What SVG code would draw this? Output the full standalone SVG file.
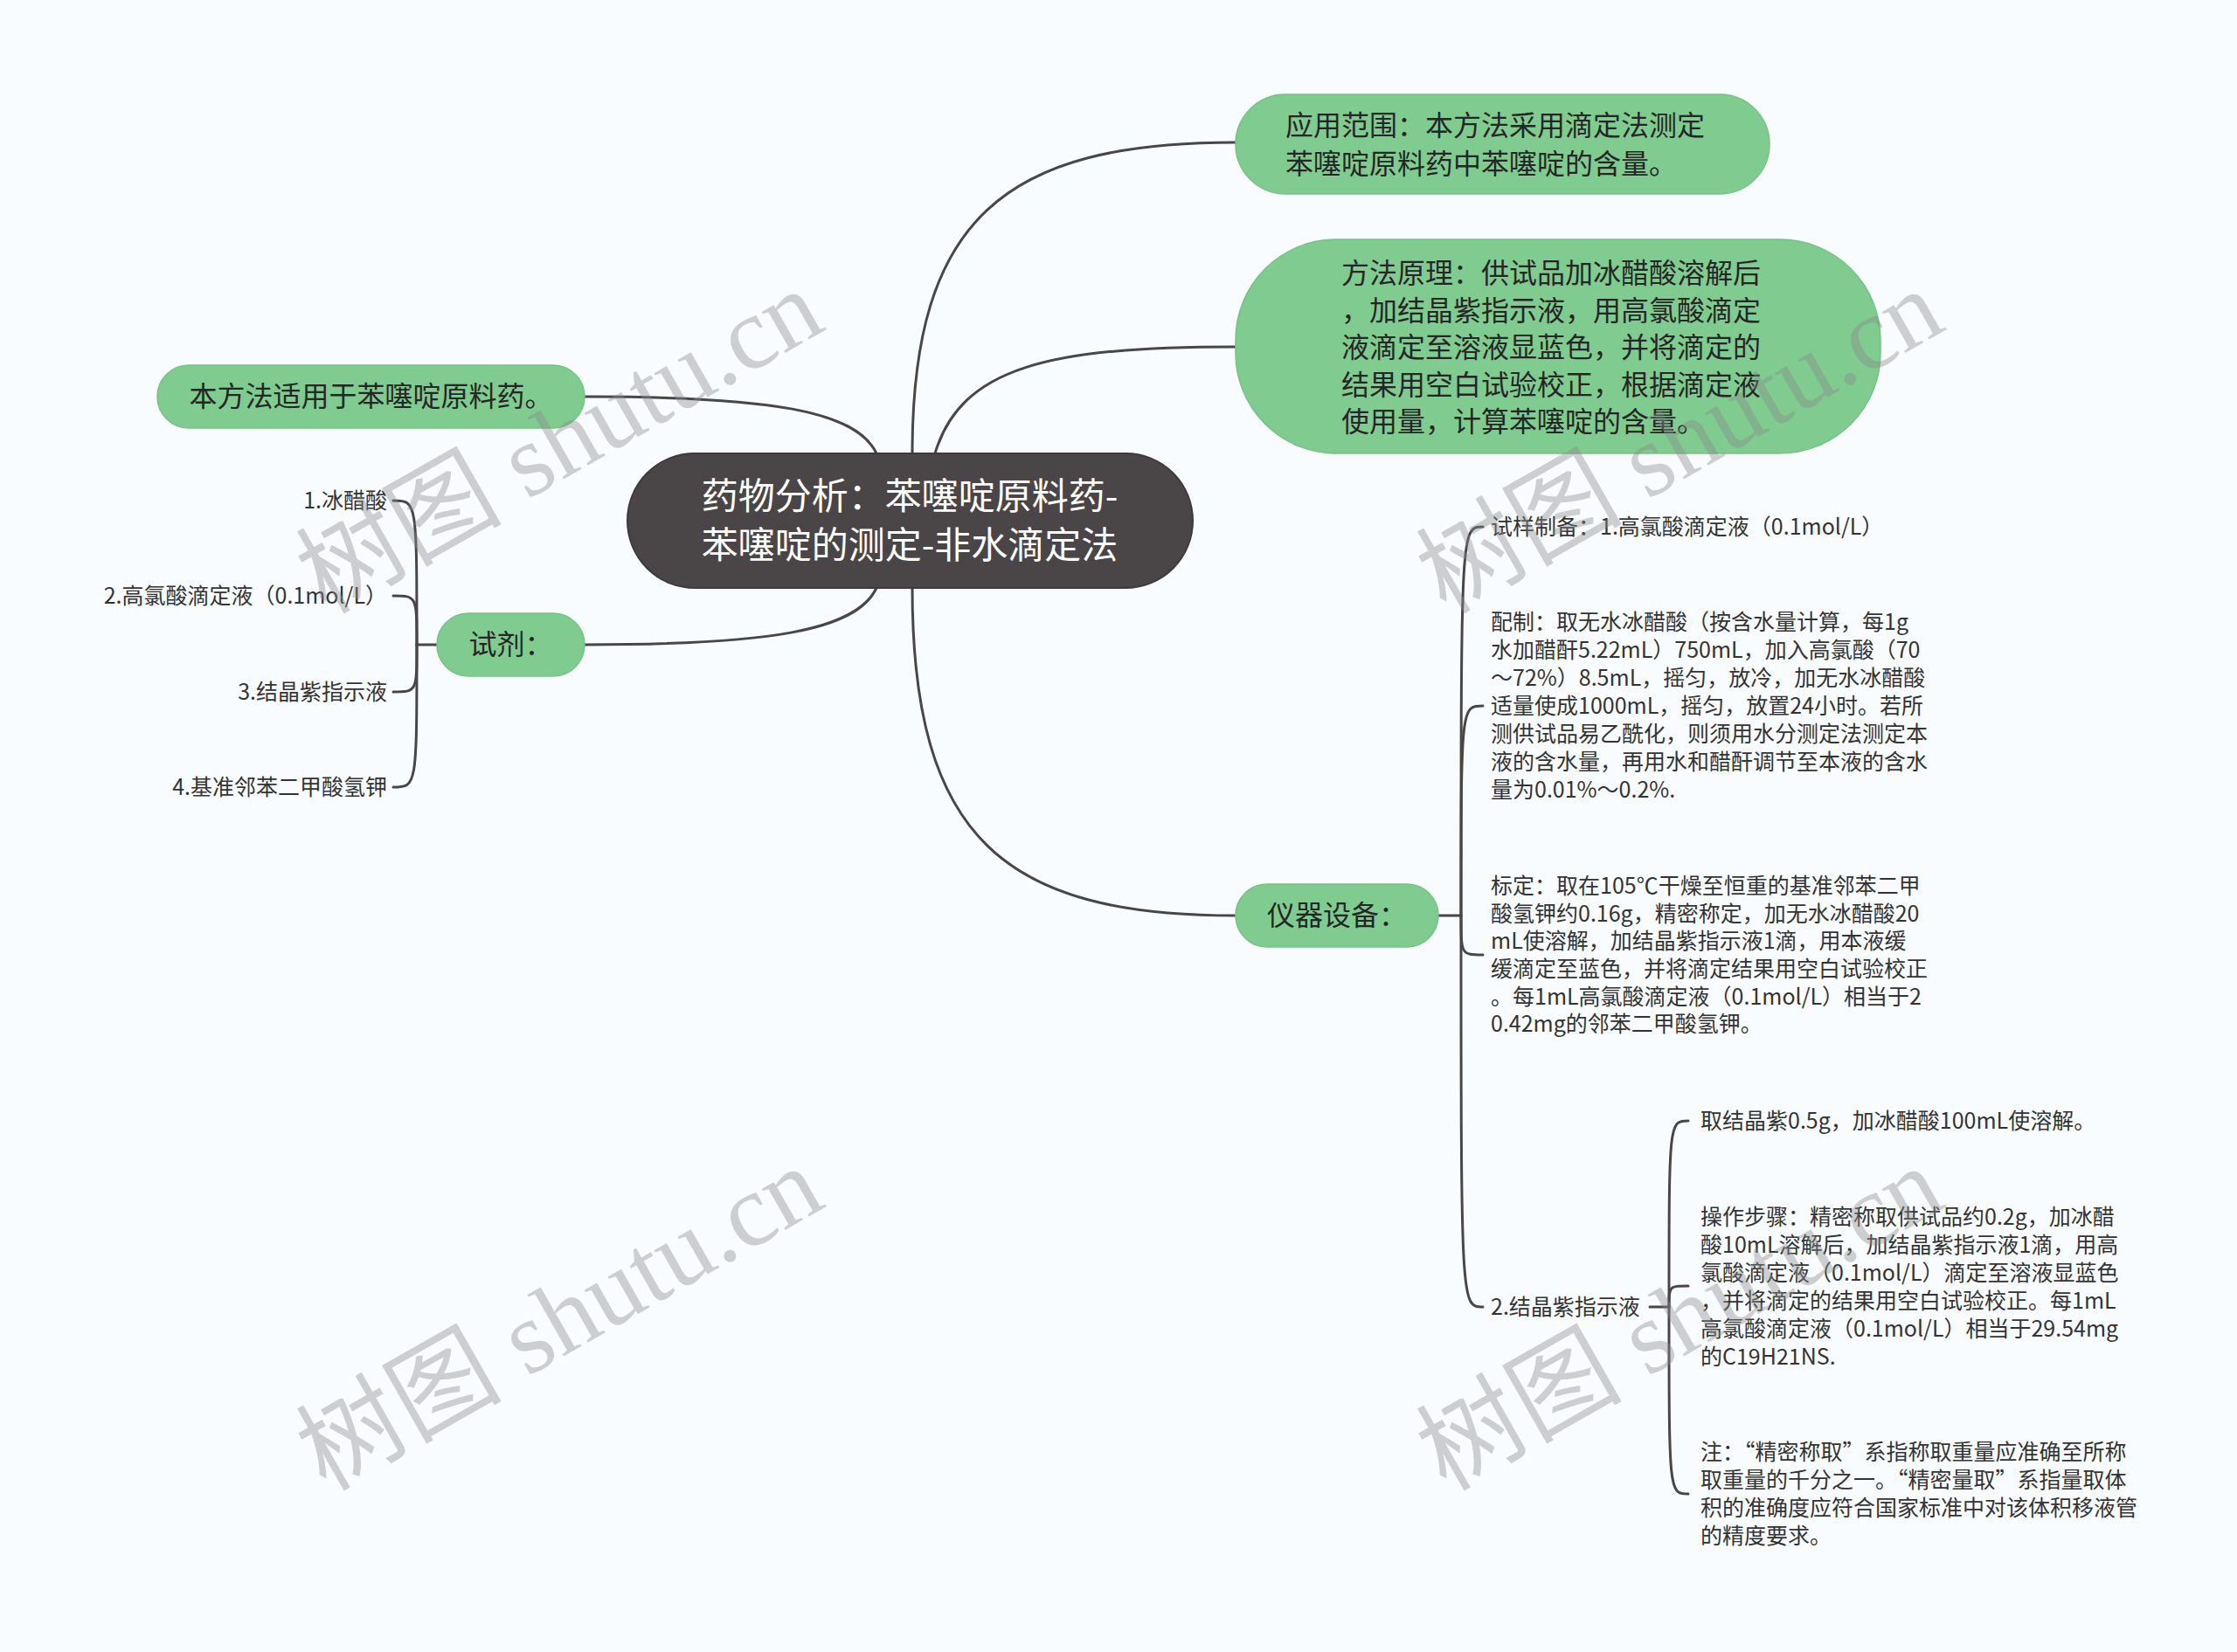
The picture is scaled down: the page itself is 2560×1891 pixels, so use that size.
<svg xmlns="http://www.w3.org/2000/svg" width="2560" height="1891" viewBox="0 0 2560 1891">
<style>
text{font-family:"Noto Sans CJK SC","Liberation Sans",sans-serif;}
.bg{fill:#f9fcfe;}
.cn{fill:#4a4546;stroke:#3e393a;stroke-width:2;}
.gn{fill:#80cb8f;stroke:#76c285;stroke-width:1.5;}
.ct{fill:#ffffff;font-size:42px;}
.t1{fill:#262626;font-size:32px;}
.t2{fill:#333333;font-size:25px;}
.ln{fill:none;stroke:#4a4546;stroke-width:3;stroke-linecap:round;}
.wm{font-family:"Liberation Serif","Noto Sans CJK SC",serif;font-size:118px;fill:#8c8c8c;opacity:0.4;}
</style>
<rect class="bg" x="0" y="0" width="2560" height="1891"/>
<g id="connectors">
<path class="ln" d="M1044 519 C1044 250 1150 163 1414 163"/>
<path class="ln" d="M1070 519 C1100 420 1200 397 1414 397"/>
<path class="ln" d="M1003 519 C980 470 880 454 669 454"/>
<path class="ln" d="M1003 673 C980 722 880 738 669 738"/>
<path class="ln" d="M1044 673 C1044 960 1150 1048 1414 1048"/>
<path class="ln" d="M500 738 H477"/>
<path class="ln" d="M477 738 C477 573 477 573 450 573"/>
<path class="ln" d="M477 738 C477 682 477 682 450 682"/>
<path class="ln" d="M477 738 C477 792 477 792 450 792"/>
<path class="ln" d="M477 738 C477 901 477 901 450 901"/>
<path class="ln" d="M1646 1048 H1672"/>
<path class="ln" d="M1672 1048 C1672 603 1672 603 1697 603"/>
<path class="ln" d="M1672 1048 C1672 808 1672 808 1697 808"/>
<path class="ln" d="M1672 1048 C1672 1093 1672 1093 1697 1093"/>
<path class="ln" d="M1672 1048 C1672 1496 1672 1496 1697 1496"/>
<path class="ln" d="M1888 1496 H1910"/>
<path class="ln" d="M1910 1496 C1910 1283 1910 1283 1932 1283"/>
<path class="ln" d="M1910 1496 C1910 1472 1910 1472 1932 1472"/>
<path class="ln" d="M1910 1496 C1910 1710 1910 1710 1932 1710"/>
</g>
<g id="root">
<rect class="cn" x="718" y="519" width="647" height="154" rx="77"/>
<text class="ct" text-anchor="middle"><tspan x="1041" y="583">药物分析：苯噻啶原料药-</tspan><tspan x="1041" y="639">苯噻啶的测定-非水滴定法</tspan></text>
</g>
<g id="scope">
<rect class="gn" x="1414" y="108" width="611" height="114" rx="57"/>
<text class="t1"><tspan x="1471" y="155">应用范围：本方法采用滴定法测定</tspan><tspan x="1471" y="199">苯噻啶原料药中苯噻啶的含量。</tspan></text>
</g>
<g id="principle">
<rect class="gn" x="1414" y="274" width="738" height="245" rx="115"/>
<text class="t1"><tspan x="1535" y="324">方法原理：供试品加冰醋酸溶解后</tspan><tspan x="1535" y="367">，加结晶紫指示液，用高氯酸滴定</tspan><tspan x="1535" y="409">液滴定至溶液显蓝色，并将滴定的</tspan><tspan x="1535" y="452">结果用空白试验校正，根据滴定液</tspan><tspan x="1535" y="494">使用量，计算苯噻啶的含量。</tspan></text>
</g>
<g id="apply">
<rect class="gn" x="180" y="418" width="489" height="72" rx="36"/>
<text class="t1" x="424.5" y="465" text-anchor="middle">本方法适用于苯噻啶原料药。</text>
</g>
<g id="reagent">
<rect class="gn" x="500" y="702" width="169" height="72" rx="36"/>
<text class="t1" x="584.5" y="749" text-anchor="middle">试剂：</text>
</g>
<g id="reagent-1"><text class="t2" x="443" y="582" text-anchor="end">1.冰醋酸</text></g>
<g id="reagent-2"><text class="t2" x="443" y="691" text-anchor="end">2.高氯酸滴定液（0.1mol/L）</text></g>
<g id="reagent-3"><text class="t2" x="443" y="801" text-anchor="end">3.结晶紫指示液</text></g>
<g id="reagent-4"><text class="t2" x="443" y="910" text-anchor="end">4.基准邻苯二甲酸氢钾</text></g>
<g id="equipment">
<rect class="gn" x="1414" y="1012" width="232" height="72" rx="36"/>
<text class="t1" x="1530" y="1059" text-anchor="middle">仪器设备：</text>
</g>
<g id="eq-sample"><text class="t2" x="1706" y="612">试样制备：1.高氯酸滴定液（0.1mol/L）</text></g>
<g id="eq-prep">
<text class="t2"><tspan x="1706" y="721">配制：取无水冰醋酸（按含水量计算，每1g</tspan><tspan x="1706" y="753">水加醋酐5.22mL）750mL，加入高氯酸（70</tspan><tspan x="1706" y="785">～72%）8.5mL，摇匀，放冷，加无水冰醋酸</tspan><tspan x="1706" y="817">适量使成1000mL，摇匀，放置24小时。若所</tspan><tspan x="1706" y="849">测供试品易乙酰化，则须用水分测定法测定本</tspan><tspan x="1706" y="881">液的含水量，再用水和醋酐调节至本液的含水</tspan><tspan x="1706" y="913">量为0.01%～0.2%.</tspan></text>
</g>
<g id="eq-calib">
<text class="t2"><tspan x="1706" y="1023">标定：取在105℃干燥至恒重的基准邻苯二甲</tspan><tspan x="1706" y="1055">酸氢钾约0.16g，精密称定，加无水冰醋酸20</tspan><tspan x="1706" y="1086">mL使溶解，加结晶紫指示液1滴，用本液缓</tspan><tspan x="1706" y="1118">缓滴定至蓝色，并将滴定结果用空白试验校正</tspan><tspan x="1706" y="1150">。每1mL高氯酸滴定液（0.1mol/L）相当于2</tspan><tspan x="1706" y="1181">0.42mg的邻苯二甲酸氢钾。</tspan></text>
</g>
<g id="eq-indicator"><text class="t2" x="1706" y="1505">2.结晶紫指示液</text></g>
<g id="ind-1"><text class="t2" x="1946" y="1292">取结晶紫0.5g，加冰醋酸100mL使溶解。</text></g>
<g id="ind-2">
<text class="t2"><tspan x="1946" y="1402">操作步骤：精密称取供试品约0.2g，加冰醋</tspan><tspan x="1946" y="1434">酸10mL溶解后，加结晶紫指示液1滴，用高</tspan><tspan x="1946" y="1466">氯酸滴定液（0.1mol/L）滴定至溶液显蓝色</tspan><tspan x="1946" y="1498">，并将滴定的结果用空白试验校正。每1mL</tspan><tspan x="1946" y="1530">高氯酸滴定液（0.1mol/L）相当于29.54mg</tspan><tspan x="1946" y="1562">的C19H21NS.</tspan></text>
</g>
<g id="ind-3">
<text class="t2"><tspan x="1946" y="1671">注：“精密称取”系指称取重量应准确至所称</tspan><tspan x="1946" y="1703">取重量的千分之一。“精密量取”系指量取体</tspan><tspan x="1946" y="1735">积的准确度应符合国家标准中对该体积移液管</tspan><tspan x="1946" y="1767">的精度要求。</tspan></text>
</g>
<g id="watermarks">
<text class="wm" x="660" y="540" text-anchor="middle" transform="rotate(-29.7 660 540)">树图 shutu.cn</text>
<text class="wm" x="1942" y="540" text-anchor="middle" transform="rotate(-29.7 1942 540)">树图 shutu.cn</text>
<text class="wm" x="660" y="1544" text-anchor="middle" transform="rotate(-29.7 660 1544)">树图 shutu.cn</text>
<text class="wm" x="1942" y="1544" text-anchor="middle" transform="rotate(-29.7 1942 1544)">树图 shutu.cn</text>
</g>
</svg>
